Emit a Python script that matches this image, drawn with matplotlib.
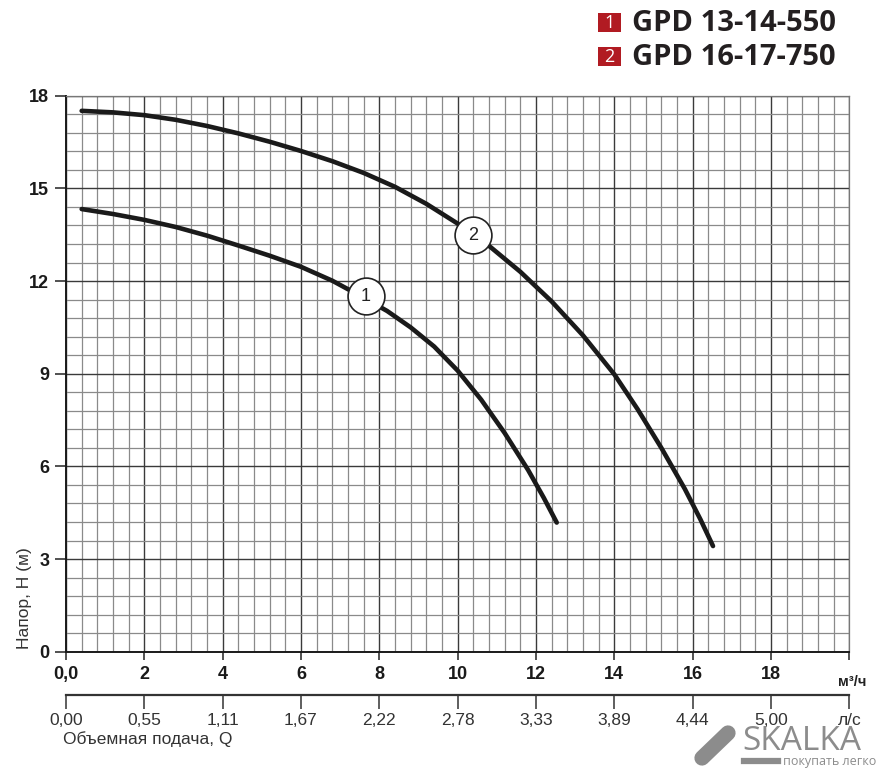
import matplotlib
matplotlib.use("Agg")
import matplotlib.pyplot as plt
from matplotlib.patches import Rectangle
from matplotlib.lines import Line2D
from matplotlib.ticker import MultipleLocator, FixedLocator

plt.rcParams['font.family'] = ['Liberation Sans', 'DejaVu Sans']

# ---- data ----
q1 = [0.4, 1.2, 2.0, 2.8, 3.6, 4.4, 5.2, 6.0, 6.8, 7.6, 8.2, 8.8, 9.4, 10.0, 10.6, 11.2, 11.8, 12.2, 12.53]
h1 = [14.33, 14.17, 13.98, 13.75, 13.47, 13.15, 12.82, 12.46, 12.01, 11.46, 11.03, 10.50, 9.88, 9.10,
      8.16, 7.08, 5.88, 4.98, 4.18]

q2 = [0.4, 1.2, 2.0, 2.8, 3.6, 4.4, 5.2, 6.0, 6.8, 7.6, 8.4, 9.2, 10.0, 10.8, 11.6, 12.4, 13.2, 14.0,
      14.6, 15.2, 15.8, 16.2, 16.52]
h2 = [17.51, 17.46, 17.37, 17.22, 17.02, 16.78, 16.51, 16.21, 15.88, 15.50, 15.05, 14.50, 13.86, 13.14,
      12.30, 11.34, 10.24, 8.98, 7.84, 6.60, 5.27, 4.28, 3.42]

curve_labels = ['1', '2']
label_q = [7.66, 10.40]
label_h = [11.50, 13.49]

legend_names = ['GPD 13-14-550', 'GPD 16-17-750']

x_ticks = [0, 2, 4, 6, 8, 10, 12, 14, 16, 18, 20]
x_ticklabels = ['0,0', '2', '4', '6', '8', '10', '12', '14', '16', '18', '']
y_ticks = [0, 3, 6, 9, 12, 15, 18]
y_ticklabels = ['0', '3', '6', '9', '12', '15', '18']
ls_ticklabels = ['0,00', '0,55', '1,11', '1,67', '2,22', '2,78', '3,33', '3,89', '4,44', '5,00', 'л/с']

W, H = 880, 768
fig = plt.figure(figsize=(W / 100, H / 100), dpi=100)
fig.patch.set_facecolor('white')

L, R, B, T = 66, 849.3, 651.7, 95.7
ax = fig.add_axes([L / W, 1 - B / H, (R - L) / W, (B - T) / H])
ax.set_xlim(0, 20)
ax.set_ylim(0, 18)

ax.xaxis.set_major_locator(FixedLocator(x_ticks))
ax.xaxis.set_minor_locator(MultipleLocator(0.4))
ax.yaxis.set_major_locator(FixedLocator(y_ticks))
ax.yaxis.set_minor_locator(MultipleLocator(0.6))
ax.set_xticklabels(x_ticklabels, fontsize=13, fontweight='bold', color='#1a1a1a')
ax.set_yticklabels(y_ticklabels, fontsize=13, fontweight='bold', color='#1a1a1a')

ax.grid(which='minor', color='#8a8a8a', lw=0.9)
ax.grid(which='major', color='#3a3a3a', lw=1.0)
ax.set_axisbelow(True)
ax.tick_params(which='minor', length=0)
ax.tick_params(axis='x', which='major', direction='out', length=6, width=1.1, pad=4, color='#222')
ax.tick_params(axis='y', which='major', direction='out', length=8, width=1.1, pad=4, color='#222')

for s in ['left', 'bottom']:
    ax.spines[s].set_color('#1a1a1a')
    ax.spines[s].set_linewidth(1.4)
for s in ['top', 'right']:
    ax.spines[s].set_color('#777777')
    ax.spines[s].set_linewidth(0.9)

ax.plot(q1, h1, color='#1a1a1a', lw=3.3, solid_capstyle='round', solid_joinstyle='round', zorder=3)
ax.plot(q2, h2, color='#1a1a1a', lw=3.3, solid_capstyle='round', solid_joinstyle='round', zorder=3)

for lab, xq, yh in zip(curve_labels, label_q, label_h):
    ax.plot([xq], [yh], 'o', ms=26.5, mfc='white', mec='#222222', mew=1.2, zorder=5)
    ax.text(xq, yh, lab, fontsize=13, ha='center', va='center', color='#222', zorder=6)

# second (l/s) axis
Y2 = 695
ax2 = fig.add_axes([L / W, 1 - Y2 / H, (R - L) / W, 0.0005])
ax2.set_xlim(0, 20)
ax2.patch.set_visible(False)
for s in ['left', 'right', 'top']:
    ax2.spines[s].set_visible(False)
ax2.spines['bottom'].set_color('#333333')
ax2.spines['bottom'].set_linewidth(1.6)
ax2.set_yticks([])
ax2.xaxis.set_major_locator(FixedLocator(x_ticks))
ax2.set_xticklabels(ls_ticklabels, fontsize=12.5, color='#333333')
ax2.tick_params(axis='x', direction='out', length=10, width=1.1, pad=3, color='#333')

fig.text(63 / W, 1 - 739 / H, 'Объемная подача, Q', fontsize=12.5, color='#333333', ha='left', va='center')
fig.text(24 / W, 1 - 598 / H, 'Напор, H (м)', fontsize=12.5, color='#333333', rotation=90, ha='center', va='center')
fig.text(852 / W, 1 - 682 / H, 'м³/ч', fontsize=10.5, fontweight='bold', color='#222', ha='center', va='center')

# legend
red = '#b11b22'
rows_y = [22.5, 56.5]
for i, (name, yc) in enumerate(zip(legend_names, rows_y)):
    fig.add_artist(Rectangle((598 / W, 1 - (yc + 9.5) / H), 23 / W, 19 / H,
                             transform=fig.transFigure, facecolor=red, edgecolor='none'))
    fig.text(609.5 / W, 1 - (yc + 0.5) / H, str(i + 1), fontsize=13, color='white',
             ha='center', va='center', family=['Open Sans', 'DejaVu Sans'])
    fig.text(632 / W, 1 - (yc + 1) / H, name, fontsize=21, fontweight='bold', color='#231f20',
             ha='left', va='center', family=['Open Sans', 'DejaVu Sans'])

# watermark
wm = '#8c8c8c'
fig.add_artist(Line2D([702 / W, 728 / W], [1 - 758 / H, 1 - 733 / H], transform=fig.transFigure,
                      color=wm, lw=11, solid_capstyle='round'))
fig.text(742 / W, 1 - 742 / H, 'SKALKA', fontsize=24, color=wm, ha='left', va='center',
         family=['Open Sans', 'DejaVu Sans'])
fig.add_artist(Line2D([744 / W, 778 / W], [1 - 761 / H, 1 - 761 / H], transform=fig.transFigure,
                      color=wm, lw=4.5))
fig.text(783 / W, 1 - 761 / H, 'покупать легко', fontsize=9, color=wm, ha='left', va='center',
         family=['Open Sans', 'DejaVu Sans'])

fig.savefig('out.png', dpi=100, facecolor='white')
